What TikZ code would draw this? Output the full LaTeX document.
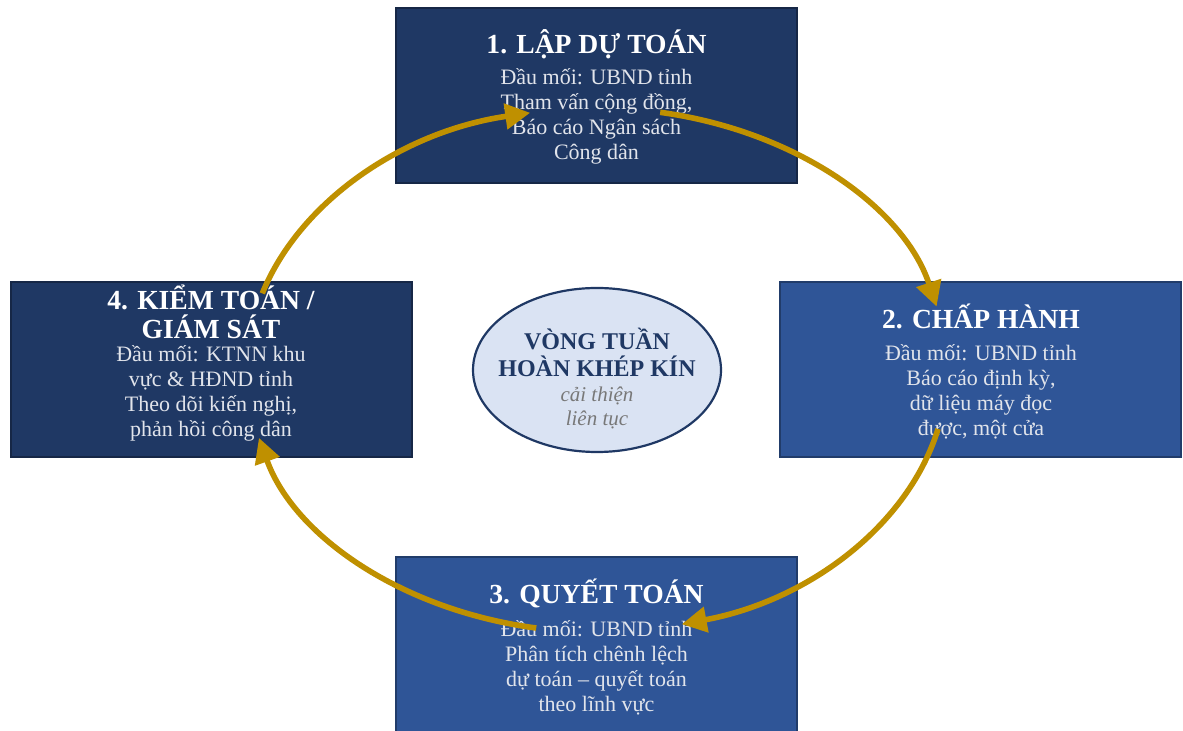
\documentclass[tikz,border=0pt]{standalone}
\usepackage{fontspec}
\setmainfont{Liberation Serif}
\usetikzlibrary{arrows.meta,calc,shapes.geometric}
\definecolor{navy}{RGB}{31,56,100}
\definecolor{midblue}{RGB}{47,85,151}
\definecolor{paleblue}{RGB}{218,227,243}
\definecolor{gold}{RGB}{191,144,0}
\definecolor{bodytxt}{RGB}{225,228,235}
\definecolor{softgray}{RGB}{120,120,120}
\tikzset{
  x=0.5pt, y=0.5pt,
  stagebox/.style={draw=#1!70!black, line width=0.6pt, fill=#1, minimum width=200.5pt, minimum height=87.5pt, inner sep=0pt},
  stagetitle/.style={text=white, font=\fontsize{13.8}{14.6}\selectfont\bfseries, align=center, inner sep=0pt},
  stagebody/.style={text=bodytxt, font=\fontsize{11}{12.5}\selectfont, align=center, inner sep=0pt},
  cycle/.style={draw=gold, line width=2.8pt, -{Triangle[length=12.5pt,width=12.5pt]}}
}
\begin{document}
\begin{tikzpicture}
\useasboundingbox (0,0) rectangle (1183,-731);

% the four stages
\node[stagebox=navy]    (s1) at (596.5,-95.5)  {};
\node[stagebox=midblue] (s2) at (980.5,-369.5) {};
\node[stagebox=midblue] (s3) at (596.5,-644.5) {};
\node[stagebox=navy]    (s4) at (211.5,-369.5) {};

\node[stagetitle] (t1) at (596.5,-44) {1. LẬP DỰ TOÁN};
\node[stagebody]  (b1) at (596.5,-116) {Đầu mối: UBND tỉnh\\Tham vấn cộng đồng,\\Báo cáo Ngân sách\\Công dân};

\node[stagetitle] (t2) at (981,-316) {2. CHẤP HÀNH};
\node[stagebody]  (b2) at (981,-392) {Đầu mối: UBND tỉnh\\Báo cáo định kỳ,\\dữ liệu máy đọc\\được, một cửa};

\node[stagetitle] (t3) at (596.5,-593) {3. QUYẾT TOÁN};
\node[stagebody]  (b3) at (596.5,-667.5) {Đầu mối: UBND tỉnh\\Phân tích chênh lệch\\dự toán – quyết toán\\theo lĩnh vực};

\node[stagetitle] (t4) at (211,-312) {4. KIỂM TOÁN /\\GIÁM SÁT};
\node[stagebody]  (b4) at (211,-393) {Đầu mối: KTNN khu\\vực \& HĐND tỉnh\\Theo dõi kiến nghị,\\phản hồi công dân};

% centre of the cycle
\node[ellipse, draw=navy, line width=1.1pt, fill=paleblue, minimum width=124pt, minimum height=82pt, inner sep=0pt] (hub) at (597,-370) {};
\node[text=navy, font=\fontsize{12}{13.5}\selectfont\bfseries, align=center, inner sep=0pt] (hubtitle) at (597,-352.5) {VÒNG TUẦN\\HOÀN KHÉP KÍN};
\node[text=softgray, font=\fontsize{10.5}{12}\selectfont\itshape, align=center, inner sep=0pt] (hubnote) at (597,-408) {cải thiện\\liên tục};

% arcs of the cycle
\coordinate (ctr) at (597,-370);
\coordinate (a4) at ($(ctr)+(163:175pt and 131pt)$);
\coordinate (a1) at ($(ctr)+(79.6:175pt and 131pt)$);
\coordinate (a2) at ($(ctr)+(-13:175pt and 131pt)$);
\coordinate (a3) at ($(ctr)+(-100:175pt and 131pt)$);

\draw[cycle] (a4) arc[start angle=163, end angle=101, x radius=175pt, y radius=131pt];
\draw[cycle] (a1) arc[start angle=79.6, end angle=14, x radius=175pt, y radius=131pt];
\draw[cycle] (a2) arc[start angle=-13, end angle=-76, x radius=175pt, y radius=131pt];
\draw[cycle] (a3) arc[start angle=-100, end angle=-165, x radius=175pt, y radius=131pt];
\end{tikzpicture}
\end{document}
